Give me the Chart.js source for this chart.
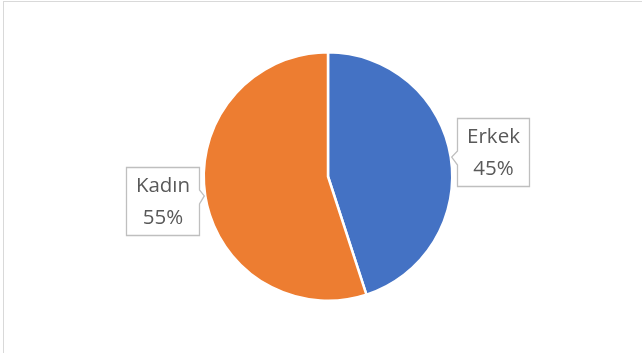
<!DOCTYPE html>
<html>
<head>
<meta charset="utf-8">
<script src="https://cdn.jsdelivr.net/npm/chart.js@4/dist/chart.umd.min.js"></script>
<style>
  html, body { margin: 0; padding: 0; background: #fff; overflow: hidden; }
  #wrap { position: relative; width: 642px; height: 353px; }
  #frame { position: absolute; left: 3px; top: 1px; width: 700px; height: 400px; border-left: 1px solid #d9d9d9; border-top: 1px solid #d9d9d9; }
  canvas { position: absolute; left: 0; top: 0; }
</style>
</head>
<body>
<div id="wrap">
  <div id="frame"></div>
  <canvas id="chart" width="642" height="353"></canvas>
</div>
<script>
const categories = ["Erkek", "Kadın"];
const shares = [45, 55];
const sliceColors = ["#4472C4", "#ED7D31"];

// callout labels: box with a small pointer touching the slice edge
const calloutPlugin = {
  id: "callouts",
  afterDatasetsDraw(chart) {
    const ctx = chart.ctx;
    const meta = chart.getDatasetMeta(0);
    const total = shares.reduce((a, b) => a + b, 0);
    ctx.save();
    ctx.font = "20.5px 'Open Sans'";
    meta.data.forEach((arc, i) => {
      const mid = (arc.startAngle + arc.endAngle) / 2;
      const r = arc.outerRadius;
      const tipX = arc.x + Math.cos(mid) * r;
      const tipY = arc.y + Math.sin(mid) * r;
      const lines = [categories[i], Math.round(shares[i] / total * 100) + "%"];
      const tw = Math.max(...lines.map(l => ctx.measureText(l).width));
      const w = Math.round(tw + 19), h = 68;
      const right = Math.cos(mid) > 0;
      const boxY = Math.round(arc.y + (tipY - arc.y) * 1.25 - h / 2) + 0.5;
      const boxX = right ? Math.round(tipX + 6) + 0.5 : Math.round(tipX - 6 - w) + 0.5;
      const pTop = Math.round(tipY - 6), pBot = Math.round(tipY + 8);

      ctx.beginPath();
      ctx.moveTo(boxX, boxY);
      ctx.lineTo(boxX + w, boxY);
      if (!right) {
        ctx.lineTo(boxX + w, pTop);
        ctx.lineTo(tipX - 1, tipY);
        ctx.lineTo(boxX + w, pBot);
      }
      ctx.lineTo(boxX + w, boxY + h);
      ctx.lineTo(boxX, boxY + h);
      if (right) {
        ctx.lineTo(boxX, pBot);
        ctx.lineTo(tipX + 1, tipY);
        ctx.lineTo(boxX, pTop);
      }
      ctx.closePath();
      ctx.fillStyle = "#ffffff";
      ctx.fill();
      ctx.strokeStyle = "#bfbfbf";
      ctx.lineWidth = 1.3;
      ctx.stroke();

      ctx.fillStyle = "#595959";
      ctx.textAlign = "center";
      ctx.textBaseline = "middle";
      const cx = boxX + w / 2;
      ctx.fillText(lines[0], cx, boxY + h / 2 - 15);
      ctx.fillText(lines[1], cx, boxY + h / 2 + 17);
    });
    ctx.restore();
  }
};

new Chart(document.getElementById("chart"), {
  type: "pie",
  data: {
    labels: categories,
    datasets: [{
      data: shares,
      backgroundColor: sliceColors,
      borderColor: "#ffffff",
      borderWidth: 2.5
    }]
  },
  options: {
    responsive: false,
    animation: false,
    layout: { padding: { left: 202, right: 188, top: 51, bottom: 51 } },
    plugins: {
      legend: { display: false },
      tooltip: { enabled: false }
    }
  },
  plugins: [calloutPlugin]
});
</script>
</body>
</html>
